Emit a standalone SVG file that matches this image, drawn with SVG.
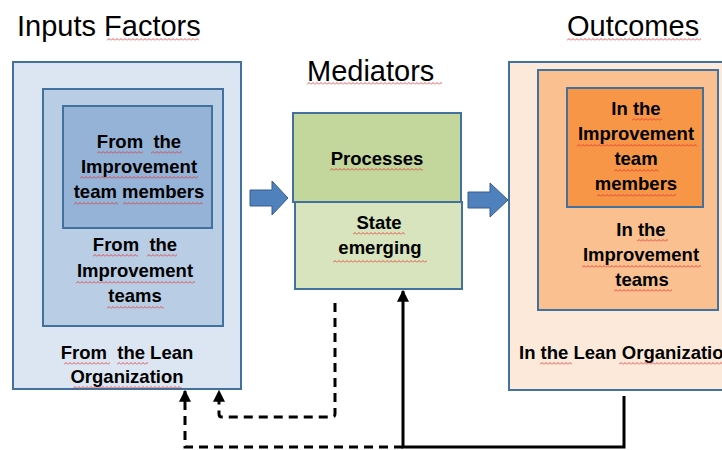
<svg xmlns="http://www.w3.org/2000/svg" width="722" height="450" viewBox="0 0 722 450">
<style>
.hdr{font-family:"Liberation Sans",Arial,sans-serif;font-size:29px;fill:#000}
.lb{font-family:"Liberation Sans",Arial,sans-serif;font-size:18.5px;font-weight:bold;fill:#000;text-anchor:middle}
.box{stroke:#41719c;stroke-width:2}
.barrow{fill:#4f81bd;stroke:#385d8a;stroke-width:1}
.sq{fill:url(#sq)}
.dash{fill:none;stroke:#000;stroke-width:3;stroke-dasharray:9 6}
.solid{fill:none;stroke:#000;stroke-width:3}
</style>
<defs>
<pattern id="sq" patternUnits="userSpaceOnUse" width="4" height="3">
<path d="M0 2.5 L2 0.5 L4 2.5" fill="none" stroke="#e03030" stroke-width="0.8"/>
</pattern>
<marker id="ah" viewBox="0 0 10 10" refX="9" refY="5" markerWidth="4" markerHeight="4" orient="auto" markerUnits="strokeWidth">
<path d="M0 0 L10 5 L0 10 Z" fill="#000"/>
</marker>
</defs>
<rect width="722" height="450" fill="#fff"/>

<g id="headers">
<text class="hdr" x="17" y="36">Inputs Factors</text>
<rect class="sq" transform="translate(107,38)" width="92" height="3"/>
<text class="hdr" x="307" y="81">Mediators</text>
<rect class="sq" transform="translate(307,82)" width="135" height="3"/>
<text class="hdr" x="567" y="36">Outcomes</text>
<rect class="sq" transform="translate(567,38)" width="134" height="3"/>
</g>

<g id="input-lean-organization">
<rect class="box" x="13" y="62" width="228" height="327" fill="#dce6f2"/>
<text class="lb" x="127" y="359" xml:space="preserve">From  the Lean</text>
<text class="lb" x="127" y="383">Organization</text>
<rect class="sq" transform="translate(64,362)" width="46" height="3"/>
<rect class="sq" transform="translate(117,362)" width="31" height="3"/>
<rect class="sq" transform="translate(73,386)" width="109" height="3"/>
</g>
<g id="input-improvement-teams">
<rect class="box" x="43" y="89" width="180" height="237" fill="#b9cde5"/>
<text class="lb" x="135" y="251" xml:space="preserve">From  the</text>
<text class="lb" x="135" y="277">Improvement</text>
<text class="lb" x="135" y="302">teams</text>
<rect class="sq" transform="translate(93,254)" width="45" height="3"/>
<rect class="sq" transform="translate(147,254)" width="30" height="3"/>
<rect class="sq" transform="translate(76,281)" width="119" height="3"/>
<rect class="sq" transform="translate(107,306)" width="57" height="3"/>
</g>
<g id="input-team-members">
<rect class="box" x="63" y="106" width="149" height="122" fill="#95b3d7"/>
<text class="lb" x="139" y="148" xml:space="preserve">From  the</text>
<text class="lb" x="139" y="173">Improvement</text>
<text class="lb" x="139" y="198">team members</text>
<rect class="sq" transform="translate(97,151)" width="46" height="3"/>
<rect class="sq" transform="translate(151,151)" width="31" height="3"/>
<rect class="sq" transform="translate(80,176)" width="118" height="3"/>
<rect class="sq" transform="translate(74,202)" width="44" height="3"/>
<rect class="sq" transform="translate(123,202)" width="80" height="3"/>
</g>

<g id="mediator-processes">
<rect class="box" x="293" y="113" width="168" height="89" fill="#c3d69b"/>
<text class="lb" x="377" y="165">Processes</text>
<rect class="sq" transform="translate(330,168)" width="93" height="3"/>
</g>
<g id="mediator-state-emerging">
<rect class="box" x="295" y="202" width="167" height="87" fill="#d7e4bd"/>
<text class="lb" x="379" y="229">State</text>
<text class="lb" x="380" y="254">emerging</text>
<rect class="sq" transform="translate(353,232)" width="52" height="3"/>
<rect class="sq" transform="translate(333,260)" width="94" height="3"/>
</g>

<g id="outcome-lean-organization">
<rect class="box" x="509" y="62" width="225" height="328" fill="#fde9d9"/>
<text class="lb" x="519" y="359" style="text-anchor:start">In the Lean Organization</text>
<rect class="sq" transform="translate(540,362)" width="32" height="3"/>
<rect class="sq" transform="translate(619,362)" width="110" height="3"/>
</g>
<g id="outcome-improvement-teams">
<rect class="box" x="538" y="70" width="180" height="240" fill="#fac090"/>
<text class="lb" x="641" y="236">In the</text>
<text class="lb" x="641" y="261">Improvement</text>
<text class="lb" x="642" y="286">teams</text>
<rect class="sq" transform="translate(637,239)" width="31" height="3"/>
<rect class="sq" transform="translate(582,265)" width="119" height="3"/>
<rect class="sq" transform="translate(614,289)" width="58" height="3"/>
</g>
<g id="outcome-team-members">
<rect class="box" x="567" y="88" width="136" height="119" fill="#f79646"/>
<text class="lb" x="636" y="115">In the</text>
<text class="lb" x="636" y="140">Improvement</text>
<text class="lb" x="636" y="165">team</text>
<text class="lb" x="636" y="190">members</text>
<rect class="sq" transform="translate(632,118)" width="30" height="3"/>
<rect class="sq" transform="translate(577,144)" width="120" height="3"/>
<rect class="sq" transform="translate(614,169)" width="45" height="3"/>
<rect class="sq" transform="translate(597,194)" width="79" height="3"/>
</g>

<g id="connectors">
<polygon class="barrow" points="250,190 272,190 272,181 288,198 272,215 272,206 250,206"/>
<polygon class="barrow" points="468,192 490,192 490,183 508,200 490,217 490,208 468,208"/>
<path class="dash" d="M335 303 V414 Q335 417 332 417 H222 Q219 417 219 414 V391" marker-end="url(#ah)"/>
<path class="dash" d="M403 447 H185 V391" marker-end="url(#ah)"/>
<path class="solid" d="M624 396 V447 H403 V291" marker-end="url(#ah)"/>
</g>
</svg>
